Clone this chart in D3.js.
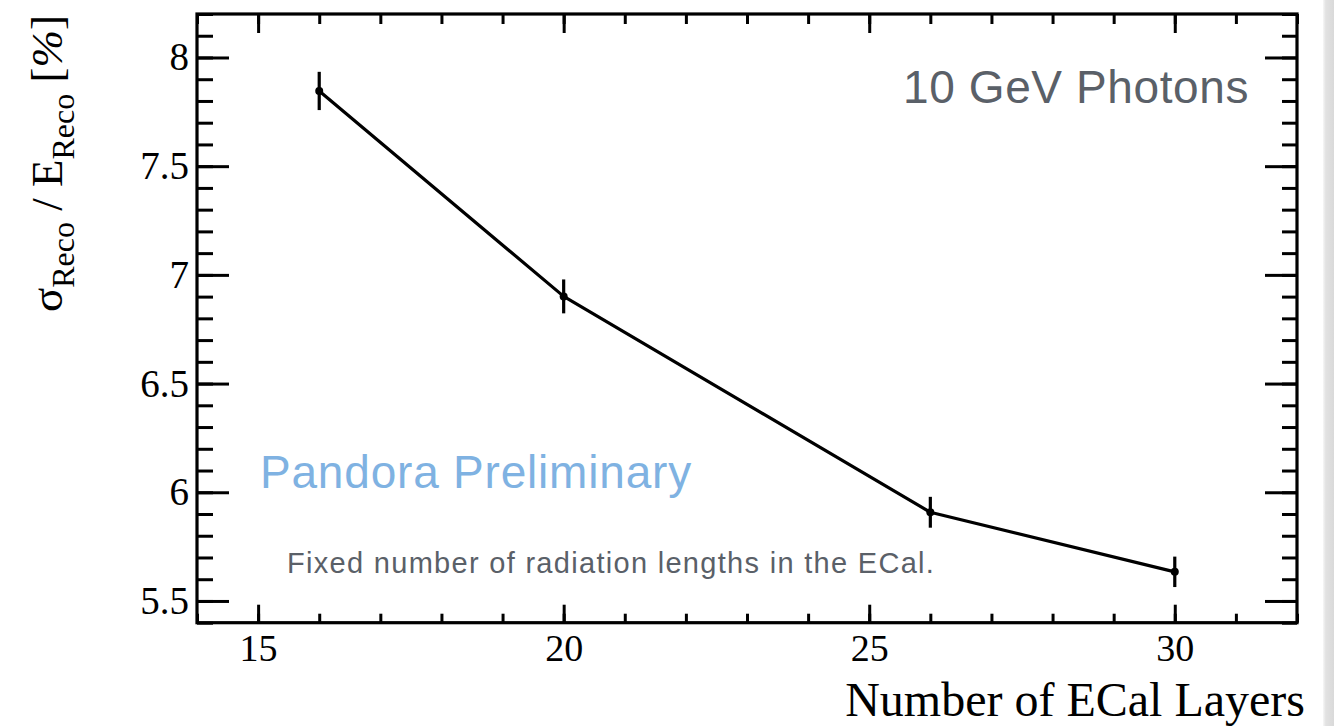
<!DOCTYPE html>
<html>
<head>
<meta charset="utf-8">
<script src="https://cdn.jsdelivr.net/npm/d3@7"></script>
<style>
  html, body { margin: 0; padding: 0; background: #fff; }
  svg { display: block; }
</style>
</head>
<body>
<svg id="chart" width="1334" height="726"></svg>
<script>
// Energy resolution of 10 GeV photons vs. number of ECal layers
const layers = [16, 20, 26, 30];
const resolution = [7.846, 6.901, 5.908, 5.634];
const resolutionErr = [0.088, 0.078, 0.071, 0.070];

const xMajorTicks = [15, 20, 25, 30];
const yMajorTicks = [5.5, 6, 6.5, 7, 7.5, 8];
const xDomain = [14, 32];
const yDomain = [5.4, 8.2];

const svg = d3.select("#chart");
const W = 1334, H = 726;
const plot = { left: 197, right: 1297, top: 14, bottom: 622.7 };

const x = d3.scaleLinear().domain(xDomain).range([plot.left, plot.right]);
const y = d3.scaleLinear().domain(yDomain).range([plot.bottom, plot.top]);

const serif = "'Liberation Serif', 'Times New Roman', Times, serif";
const sans = "'Liberation Sans', Arial, Helvetica, sans-serif";

// window edge shading on the far right
const defs = svg.append("defs");
const grad = defs.append("linearGradient").attr("id", "edge").attr("x1", 0).attr("x2", 1);
grad.append("stop").attr("offset", 0).attr("stop-color", "#f7f7f7");
grad.append("stop").attr("offset", 0.25).attr("stop-color", "#e2e2e2");
grad.append("stop").attr("offset", 1).attr("stop-color", "#d9d9d9");
svg.append("rect").attr("x", 1323).attr("y", 0).attr("width", 11).attr("height", H).attr("fill", "url(#edge)");

// tick helpers: ROOT-style ticks pointing into the frame
const xMinor = d3.range(xDomain[0], xDomain[1] + 0.001, 1);
const yMinor = d3.range(54, 83, 1).map(v => v / 10);

function styleAxis(g) {
  g.select(".domain").remove();
  g.selectAll(".tick line").attr("stroke", "#000").attr("stroke-width", 3);
}

// bottom
svg.append("g").attr("transform", `translate(0,${plot.bottom})`)
  .call(d3.axisBottom(x).tickValues(xMinor).tickSize(-9).tickFormat(""))
  .call(styleAxis);
svg.append("g").attr("transform", `translate(0,${plot.bottom})`)
  .call(d3.axisBottom(x).tickValues(xMajorTicks).tickSize(-18).tickPadding(11).tickFormat(d3.format("d")))
  .call(styleAxis)
  .call(g => g.selectAll("text").attr("font-family", serif).attr("font-size", 38).attr("fill", "#000"));
// top
svg.append("g").attr("transform", `translate(0,${plot.top})`)
  .call(d3.axisTop(x).tickValues(xMinor).tickSize(-10).tickFormat(""))
  .call(styleAxis);
svg.append("g").attr("transform", `translate(0,${plot.top})`)
  .call(d3.axisTop(x).tickValues(xMajorTicks).tickSize(-19).tickFormat(""))
  .call(styleAxis);
// left
svg.append("g").attr("transform", `translate(${plot.left},0)`)
  .call(d3.axisLeft(y).tickValues(yMinor).tickSize(-16).tickFormat(""))
  .call(styleAxis);
svg.append("g").attr("transform", `translate(${plot.left},0)`)
  .call(d3.axisLeft(y).tickValues(yMajorTicks).tickSize(-32).tickPadding(8).tickFormat(d3.format("")))
  .call(styleAxis)
  .call(g => g.selectAll("text").attr("font-family", serif).attr("font-size", 39).attr("fill", "#000"));
// right
svg.append("g").attr("transform", `translate(${plot.right},0)`)
  .call(d3.axisRight(y).tickValues(yMinor).tickSize(-15).tickFormat(""))
  .call(styleAxis);
svg.append("g").attr("transform", `translate(${plot.right},0)`)
  .call(d3.axisRight(y).tickValues(yMajorTicks).tickSize(-32).tickFormat(""))
  .call(styleAxis);

// frame
svg.append("rect")
  .attr("x", plot.left).attr("y", plot.top)
  .attr("width", plot.right - plot.left).attr("height", plot.bottom - plot.top)
  .attr("fill", "none").attr("stroke", "#000").attr("stroke-width", 3.2);

// data
const pts = layers.map((l, i) => ({ x: l, y: resolution[i], e: resolutionErr[i] }));

svg.append("path")
  .datum(pts)
  .attr("fill", "none").attr("stroke", "#000").attr("stroke-width", 3.2)
  .attr("stroke-linejoin", "round")
  .attr("d", d3.line().x(d => x(d.x)).y(d => y(d.y)));

svg.append("g").selectAll("line").data(pts).join("line")
  .attr("x1", d => x(d.x)).attr("x2", d => x(d.x))
  .attr("y1", d => y(d.y - d.e)).attr("y2", d => y(d.y + d.e))
  .attr("stroke", "#000").attr("stroke-width", 3.2);

svg.append("g").selectAll("circle").data(pts).join("circle")
  .attr("cx", d => x(d.x)).attr("cy", d => y(d.y)).attr("r", 4)
  .attr("fill", "#000");

// annotations
svg.append("text")
  .attr("x", 1249).attr("y", 103)
  .attr("text-anchor", "end")
  .attr("font-family", sans).attr("font-size", 46).attr("letter-spacing", 0.6)
  .attr("fill", "#5a6068")
  .text("10 GeV Photons");

svg.append("text")
  .attr("x", 260).attr("y", 488)
  .attr("font-family", sans).attr("font-size", 46).attr("letter-spacing", 0.8)
  .attr("fill", "#7fb2e2")
  .text("Pandora Preliminary");

svg.append("text")
  .attr("x", 287).attr("y", 573)
  .attr("font-family", sans).attr("font-size", 29).attr("letter-spacing", 1.3)
  .attr("fill", "#5a6068")
  .text("Fixed number of radiation lengths in the ECal.");

// axis titles
svg.append("text")
  .attr("x", 1305).attr("y", 716)
  .attr("text-anchor", "end")
  .attr("font-family", serif).attr("font-size", 48)
  .attr("fill", "#000")
  .text("Number of ECal Layers");

const yTitle = svg.append("text")
  .attr("transform", "translate(62,15) rotate(-90)")
  .attr("text-anchor", "end")
  .attr("font-family", serif).attr("font-size", 45)
  .attr("fill", "#000");
yTitle.append("tspan").text("σ");
yTitle.append("tspan").attr("font-size", 32).attr("dy", 12).text("Reco");
yTitle.append("tspan").attr("dy", -12).text(" / E");
yTitle.append("tspan").attr("font-size", 32).attr("dy", 12).text("Reco");
yTitle.append("tspan").attr("dy", -12).text(" [");
yTitle.append("tspan").attr("font-style", "italic").text("%");
yTitle.append("tspan").text("]");
</script>
</body>
</html>
